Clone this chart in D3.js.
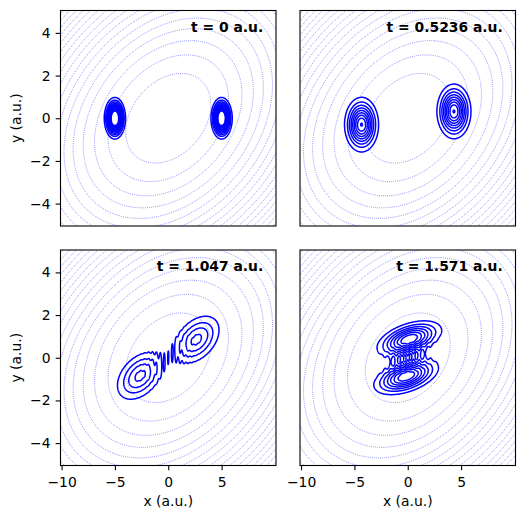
<!DOCTYPE html>
<html><head><meta charset="utf-8">
<script src="https://cdn.jsdelivr.net/npm/d3@7"></script>
<style>
body{margin:0;background:#fff}
svg{display:block}
text{font-family:"DejaVu Sans",sans-serif}
</style>
</head><body>
<svg id="c" width="525" height="519"></svg>
<script>
// ---------------- data ----------------
const times = ["0", "0.5236", "1.047", "1.571"];
const xTicks = [-10, -5, 0, 5];
const yTicks = [-4, -2, 0, 2, 4];
const xDomain = [-10.1, 10.1];
const yDomain = [-5.05, 5.05];
// potential V = a x^2 + 2 b x y + c y^2 (shape of the dotted contours)
const potCoef = [0.277, -0.16, 1.0];
const potLevels = [4, 8, 12, 16, 20, 24, 28, 32, 36, 40, 44, 48, 52, 56, 60, 64, 68];
// wave packets per panel: [cx, cy, sigmaMajor, sigmaMinor, angleDeg]
const packetsT0 = [[-5, 0, 0.42, 0.41, 0], [5, 0, 0.42, 0.41, 0]];
const packetsT1 = [[-4.33, -0.3, 0.76, 0.61, 0], [4.33, 0.32, 0.76, 0.61, 0]];
const packetsT2 = [[-2.65, -0.85, 1.27, 0.57, 15], [2.65, 0.85, 1.27, 0.57, 15]];
const packetsT3 = [[0.15, 0.87, 1.5, 0.37, 8], [-0.15, -0.87, 1.5, 0.37, 8]];
const packets = [packetsT0, packetsT1, packetsT2, packetsT3];
// interference wave number (along x) and fringe contrast per panel
const fringeK = [0, 0, 17, 11.6];
const fringeContrast = [1, 1, 0.5, 0.6];
// density contour levels (relative to one packet's peak)
const levelsT0 = [0.059, 0.118, 0.176, 0.235, 0.294, 0.353, 0.412, 0.471, 0.529, 0.588, 0.647, 0.706];
const levelsT1 = [0.11, 0.221, 0.331, 0.442, 0.552, 0.663, 0.773, 0.884, 0.994];
const levelsT2 = [0.233, 0.465, 0.698, 0.93];
const levelsT3 = [0.125, 0.25, 0.375, 0.5, 0.625, 0.75, 0.875];
const densLevels = [levelsT0, levelsT1, levelsT2, levelsT3];

// ---------------- layout ----------------
const W = 215.5, H = 215.5;
const panelLeft = [60.5, 300];
const panelTop = [10.5, 250];
const FS = 13.9;

const svg = d3.select("#c");
const xScale = d3.scaleLinear().domain(xDomain).range([0, W]);
const yScale = d3.scaleLinear().domain(yDomain).range([H, 0]);

// sampling grid (extended beyond the axes so open contours are clipped cleanly)
const gdx = 0.04, gdy = 0.02, pad = 3;
const gx0 = xDomain[0] - pad * gdx, gy0 = yDomain[0] - pad * gdy;
const nx = Math.ceil((xDomain[1] - xDomain[0]) / gdx) + 2 * pad + 1;
const ny = Math.ceil((yDomain[1] - yDomain[0]) / gdy) + 2 * pad + 1;

function sampleField(f) {
  const vals = new Float64Array(nx * ny);
  for (let j = 0; j < ny; j++) {
    const y = gy0 + j * gdy;
    for (let i = 0; i < nx; i++) vals[j * nx + i] = f(gx0 + i * gdx, y);
  }
  return vals;
}
const proj = d3.geoTransform({
  point: function(gx, gy) {
    this.stream.point(xScale(gx0 + (gx - 0.5) * gdx), yScale(gy0 + (gy - 0.5) * gdy));
  }
});
const path = d3.geoPath(proj);

function potential(x, y) {
  const [a, b, c] = potCoef;
  return a * x * x + 2 * b * x * y + c * y * y;
}
function gauss(p, x, y) {
  const [cx, cy, su, sv, ang] = p;
  const th = ang * Math.PI / 180;
  const dx = x - cx, dy = y - cy;
  const u = dx * Math.cos(th) + dy * Math.sin(th);
  const v = -dx * Math.sin(th) + dy * Math.cos(th);
  return Math.exp(-0.5 * (u * u / (su * su) + v * v / (sv * sv)));
}

const potVals = sampleField(potential);
const potContours = d3.contours().size([nx, ny]).thresholds(potLevels)(potVals);

for (let k = 0; k < 4; k++) {
  const col = k % 2, row = Math.floor(k / 2);
  const g = svg.append("g").attr("transform", `translate(${panelLeft[col]},${panelTop[row]})`);
  g.append("clipPath").attr("id", "clip" + k)
    .append("rect").attr("width", W).attr("height", H);
  const inner = g.append("g").attr("clip-path", `url(#clip${k})`);

  inner.selectAll("path.pot").data(potContours).join("path")
    .attr("class", "pot")
    .attr("d", path)
    .attr("fill", "none")
    .attr("stroke", "#0000ff")
    .attr("stroke-width", 0.75)
    .attr("stroke-dasharray", "0.75 1.2")
    .attr("stroke-opacity", 0.7);

  const [p1, p2] = packets[k];
  const kk = fringeK[k], gam = fringeContrast[k];
  const dens = sampleField((x, y) => {
    const g1 = gauss(p1, x, y), g2 = gauss(p2, x, y);
    return g1 + g2 + 2 * gam * Math.sqrt(g1 * g2) * Math.cos(kk * x);
  });
  const dc = d3.contours().size([nx, ny]).thresholds(densLevels[k])(dens);
  inner.selectAll("path.den").data(dc).join("path")
    .attr("class", "den")
    .attr("d", path)
    .attr("fill", "none")
    .attr("stroke", "#0000ff")
    .attr("stroke-width", 1.5)
    .attr("stroke-linejoin", "round");

  // spines
  g.append("rect").attr("width", W).attr("height", H)
    .attr("fill", "none").attr("stroke", "#000").attr("stroke-width", 1.1);

  // title
  g.append("text")
    .attr("x", W - 12.7).attr("y", 21)
    .attr("text-anchor", "end")
    .attr("font-size", FS).attr("font-weight", "bold")
    .text(`t = ${times[k]} a.u.`);

  if (col === 0) {
    const ax = g.append("g").call(d3.axisLeft(yScale).tickValues(yTicks)
      .tickSize(4.86).tickPadding(5.1));
    ax.select(".domain").remove();
    ax.selectAll("line").attr("stroke-width", 1.1);
    ax.selectAll("text").attr("font-size", FS).attr("font-family", "DejaVu Sans").attr("fill", "#000");
    g.append("text")
      .attr("transform", `translate(${20.8 - panelLeft[col]},${H / 2}) rotate(-90)`)
      .attr("text-anchor", "middle").attr("font-size", FS)
      .text("y (a.u.)");
  }
  if (row === 1) {
    const ax = g.append("g").attr("transform", `translate(0,${H})`)
      .call(d3.axisBottom(xScale).tickValues(xTicks).tickSize(4.86).tickPadding(7));
    ax.select(".domain").remove();
    ax.selectAll("line").attr("stroke-width", 1.1);
    ax.selectAll("text").attr("font-size", FS).attr("font-family", "DejaVu Sans").attr("fill", "#000");
    g.append("text")
      .attr("x", W / 2).attr("y", 505.5 - panelTop[row])
      .attr("text-anchor", "middle").attr("font-size", FS)
      .text("x (a.u.)");
  }
}
</script>
</body></html>
